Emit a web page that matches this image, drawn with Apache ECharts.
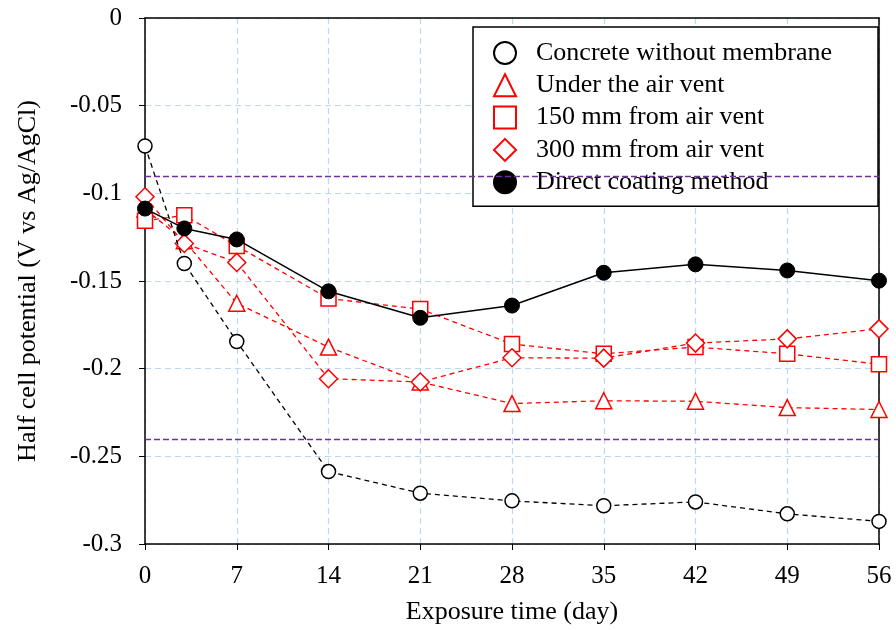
<!DOCTYPE html>
<html lang="en">
<head>
    <meta charset="UTF-8">
    <title>Half cell potential</title>
    <script src="https://cdn.jsdelivr.net/npm/echarts@6/dist/echarts.min.js"></script>
</head>
<body style="margin:0;">
<div id="myChart" style="width: 896px;height: 630px;"></div>

<script>
    // exposure days
    var days = [0, 3, 7, 14, 21, 28, 35, 42, 49, 56];
    var noMembrane = [-0.073, -0.140, -0.1845, -0.2587, -0.271, -0.2754, -0.2782, -0.276, -0.2828, -0.2871];
    var underVent = [-0.109, -0.127, -0.1627, -0.1877, -0.2076, -0.2199, -0.2183, -0.2186, -0.2222, -0.2233];
    var from150 = [-0.1157, -0.1125, -0.130, -0.160, -0.166, -0.186, -0.1915, -0.1877, -0.1915, -0.1975];
    var from300 = [-0.102, -0.1286, -0.1394, -0.2057, -0.2076, -0.1938, -0.194, -0.1854, -0.183, -0.1773];
    var direct = [-0.1087, -0.120, -0.1263, -0.1559, -0.171, -0.164, -0.1453, -0.1405, -0.144, -0.1498];
    // purple dashed limits
    var limits = [-0.092, -0.2425];
    var names = ['Concrete without membrane', 'Under the air vent', '150 mm from air vent',
        '300 mm from air vent', 'Direct coating method'];

    var font = 'Liberation Serif';
    var red = '#ff0000';

    function pairs(ys) {
        var arr = [];
        for (var i = 0; i < days.length; i++) {
            arr.push([days[i], ys[i]]);
        }
        return arr;
    }

    // plain frame line for top / right
    function frame(pos) {
        return {
            type: 'value', position: pos, min: pos === 'top' ? 0 : -0.3, max: pos === 'top' ? 56 : 0,
            axisLine: {show: true, onZero: false, lineStyle: {color: '#000', width: 1.5}},
            axisTick: {show: false}, axisLabel: {show: false}, splitLine: {show: false}
        };
    }

    var myChart = echarts.init(document.getElementById('myChart'));

    var option = {
        animation: false,
        grid: {
            left: 145,
            right: 17,
            top: 18,
            bottom: 84
        },
        legend: {
            orient: 'vertical',
            left: 473,
            top: 27,
            padding: [13, 46, 11, 20],
            itemGap: 6.3,
            itemWidth: 22,
            itemHeight: 22,
            borderColor: '#000',
            borderWidth: 1.5,
            backgroundColor: '#fff',
            textStyle: {fontFamily: font, fontSize: 26, color: '#000', padding: [0, 0, 0, 15]},
            data: [
                {name: names[0], icon: 'circle'},
                {name: names[1], icon: 'triangle'},
                {name: names[2], icon: 'rect'},
                {name: names[3], icon: 'diamond'},
                {name: names[4], icon: 'circle'}
            ]
        },
        xAxis: [{
            type: 'value',
            min: 0,
            max: 56,
            interval: 7,
            name: 'Exposure time (day)',
            nameLocation: 'middle',
            nameGap: 55,
            nameTextStyle: {fontFamily: font, fontSize: 26, color: '#000'},
            axisLine: {onZero: false, lineStyle: {color: '#000', width: 1.5}},
            axisTick: {length: 6, lineStyle: {color: '#000'}},
            axisLabel: {fontFamily: font, fontSize: 25, color: '#000', margin: 20},
            splitLine: {show: true, lineStyle: {color: '#bdd7ee', type: [6, 4], width: 1.2}}
        }, frame('top')],
        yAxis: [{
            type: 'value',
            min: -0.3,
            max: 0,
            interval: 0.05,
            name: 'Half cell potential (V vs Ag/AgCl)',
            nameLocation: 'middle',
            nameGap: 104,
            nameTextStyle: {fontFamily: font, fontSize: 26, color: '#000'},
            axisLine: {show: true, onZero: false, lineStyle: {color: '#000', width: 1.5}},
            axisTick: {show: true, length: 6, lineStyle: {color: '#000'}},
            axisLabel: {
                fontFamily: font, fontSize: 25, color: '#000', margin: 23,
                formatter: function (v) {
                    return String(Math.round(v * 100) / 100);
                }
            },
            splitLine: {show: true, lineStyle: {color: '#bdd7ee', type: [6, 4], width: 1.2}}
        }, frame('right')],
        series: [
            {
                name: names[1],
                type: 'line',
                data: pairs(underVent),
                symbol: 'triangle',
                symbolSize: 16,
                itemStyle: {color: '#fff', borderColor: red, borderWidth: 1.5},
                lineStyle: {color: red, width: 1.3, type: [5, 4]},
                markLine: {
                    silent: true,
                    symbol: 'none',
                    label: {show: false},
                    lineStyle: {color: '#7030a0', type: [6, 3], width: 1.3},
                    data: [{yAxis: limits[0]}, {yAxis: limits[1]}]
                },
                z: 3
            },
            {
                name: names[2],
                type: 'line',
                data: pairs(from150),
                symbol: 'rect',
                symbolSize: 15,
                itemStyle: {color: '#fff', borderColor: red, borderWidth: 1.5},
                lineStyle: {color: red, width: 1.3, type: [5, 4]},
                z: 3
            },
            {
                name: names[3],
                type: 'line',
                data: pairs(from300),
                symbol: 'diamond',
                symbolSize: 18,
                itemStyle: {color: '#fff', borderColor: red, borderWidth: 1.5},
                lineStyle: {color: red, width: 1.3, type: [5, 4]},
                z: 3
            },
            {
                name: names[0],
                type: 'line',
                data: pairs(noMembrane),
                symbol: 'circle',
                symbolSize: 14,
                itemStyle: {color: '#fff', borderColor: '#000', borderWidth: 1.5},
                lineStyle: {color: '#000', width: 1.3, type: [5, 4]},
                z: 4
            },
            {
                name: names[4],
                type: 'line',
                data: pairs(direct),
                symbol: 'circle',
                symbolSize: 15,
                itemStyle: {color: '#000', borderColor: '#000', borderWidth: 1},
                lineStyle: {color: '#000', width: 1.5},
                z: 5
            }
        ]
    };

    myChart.setOption(option);
</script>
</body>
</html>
